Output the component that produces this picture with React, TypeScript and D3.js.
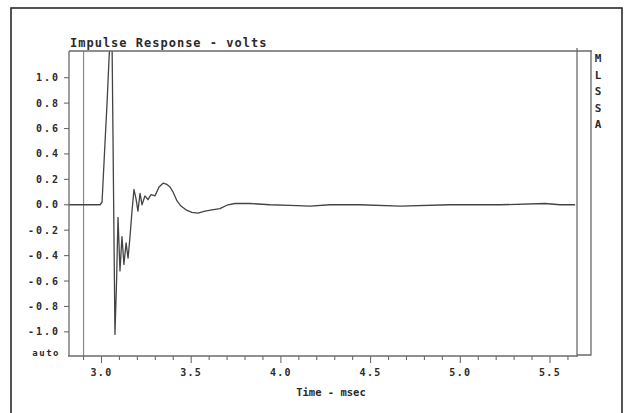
import { useEffect, useRef } from 'react';
import * as d3 from 'd3';

// impulse response samples (time in msec, volts)
const times = [
  2.819, 2.992, 3.003, 3.020, 3.031, 3.042, 3.050, 3.059, 3.075, 3.084,
  3.092, 3.103, 3.114, 3.125, 3.137, 3.148, 3.159, 3.170, 3.181, 3.192,
  3.203, 3.215, 3.226, 3.242, 3.259, 3.276, 3.298, 3.321, 3.343, 3.365,
  3.382, 3.399, 3.421, 3.443, 3.471, 3.504, 3.538, 3.577, 3.616, 3.660,
  3.705, 3.744, 3.828, 3.939, 4.051, 4.162, 4.274, 4.441, 4.665, 4.943,
  5.222, 5.472, 5.556, 5.640,
];
const volts = [
  0, 0, 0.02, 0.5, 0.8, 1.15, 1.35, 1.25, -1.02, -0.6,
  -0.1, -0.52, -0.25, -0.47, -0.3, -0.42, -0.25, -0.05, 0.12, 0.05,
  -0.05, 0.09, 0.0, 0.07, 0.04, 0.08, 0.07, 0.14, 0.17, 0.16,
  0.14, 0.1, 0.03, -0.01, -0.04, -0.06, -0.065, -0.05, -0.04, -0.03,
  0.0, 0.01, 0.01, 0.0, -0.005, -0.01, 0.0, 0.0, -0.01, 0.0,
  0.0, 0.01, 0.0, 0.0,
];

const xMajorTicks = [3.0, 3.5, 4.0, 4.5, 5.0, 5.5];
const xTickLabels = ['3.0', '3.5', '4.0', '4.5', '5.0', '5.5'];
const yTicks = [1.0, 0.8, 0.6, 0.4, 0.2, 0.0, -0.2, -0.4, -0.6, -0.8, -1.0];
const yTickLabels = ['1.0', '0.8', '0.6', '0.4', '0.2', '0.0', '-0.2', '-0.4', '-0.6', '-0.8', '-1.0'];
const markerTime = 2.9;
const sideLabel = ['M', 'L', 'S', 'S', 'A'];

export default function App() {
  const svgRef = useRef<SVGSVGElement>(null);

  useEffect(() => {
    if (!svgRef.current) return;
    const svg = d3.select(svgRef.current);
    svg.selectAll('*').remove();

    const left = 69, right = 577, top = 51, bottom = 356;
    const ink = '#2a2a2a';
    const frame = '#6a6a6a';
    const mono = "'DejaVu Sans Mono', monospace";

    const x = d3.scaleLinear().domain([3.0, 5.5]).range([101.5, 550]);
    const y = d3.scaleLinear().domain([-1.19, 1.21]).range([bottom, top]);

    // outer border
    svg.append('rect')
      .attr('x', 11).attr('y', 8).attr('width', 611).attr('height', 420)
      .attr('fill', 'none').attr('stroke', ink).attr('stroke-width', 1.6);

    // clip for the trace
    svg.append('defs').append('clipPath').attr('id', 'plotClip')
      .append('rect').attr('x', left).attr('y', top).attr('width', right - left).attr('height', bottom - top);

    // marker line
    svg.append('line')
      .attr('x1', x(markerTime)).attr('x2', x(markerTime))
      .attr('y1', top).attr('y2', bottom)
      .attr('stroke', '#8a8a8a').attr('stroke-width', 1.2);

    // trace
    const pts: [number, number][] = times.map((t, i) => [t, volts[i]]);
    const line = d3.line<[number, number]>().x(d => x(d[0])).y(d => y(d[1]));
    svg.append('path')
      .attr('d', line(pts))
      .attr('clip-path', 'url(#plotClip)')
      .attr('fill', 'none')
      .attr('stroke', '#444')
      .attr('stroke-width', 1.3)
      .attr('stroke-linejoin', 'round');

    // frame
    const f = svg.append('g').attr('stroke', frame).attr('stroke-width', 1.3).attr('fill', 'none');
    f.append('line').attr('x1', left).attr('x2', 592).attr('y1', top).attr('y2', top);
    f.append('line').attr('x1', left).attr('x2', left).attr('y1', top).attr('y2', bottom);
    f.append('line').attr('x1', left - 1).attr('x2', right).attr('y1', bottom).attr('y2', bottom);
    f.append('line').attr('x1', right).attr('x2', right).attr('y1', top - 3).attr('y2', bottom + 1);
    f.append('polyline').attr('points', `${right},${bottom - 1} 591,${bottom - 1} 591,${top}`);

    // x ticks
    const minor = d3.range(2.9, 5.65, 0.1);
    svg.append('g').selectAll('line').data(minor).join('line')
      .attr('x1', d => x(d)).attr('x2', d => x(d))
      .attr('y1', bottom).attr('y2', d => xMajorTicks.some(m => Math.abs(m - d) < 1e-6) ? bottom + 7 : bottom + 4)
      .attr('stroke', frame).attr('stroke-width', 1.1);

    svg.append('g').selectAll('text').data(xMajorTicks).join('text')
      .attr('x', d => x(d)).attr('y', 376)
      .attr('text-anchor', 'middle')
      .attr('font-family', mono).attr('font-weight', 'bold').attr('font-size', 10)
      .attr('letter-spacing', 1.3)
      .attr('fill', ink)
      .text((_, i) => xTickLabels[i]);

    // y ticks
    svg.append('g').selectAll('line').data(yTicks).join('line')
      .attr('x1', left - 5).attr('x2', left)
      .attr('y1', d => y(d)).attr('y2', d => y(d))
      .attr('stroke', frame).attr('stroke-width', 1.1);

    svg.append('g').selectAll('text').data(yTicks).join('text')
      .attr('x', 60).attr('y', d => y(d) + 3.5)
      .attr('text-anchor', 'end')
      .attr('font-family', mono).attr('font-weight', 'bold').attr('font-size', 10)
      .attr('letter-spacing', 2)
      .attr('fill', ink)
      .text((_, i) => yTickLabels[i]);

    svg.append('text')
      .attr('x', 60).attr('y', 356)
      .attr('text-anchor', 'end')
      .attr('font-family', mono).attr('font-weight', 'bold').attr('font-size', 9)
      .attr('letter-spacing', 1.5)
      .attr('fill', ink)
      .text('auto');

    // titles
    svg.append('text')
      .attr('x', 70).attr('y', 47)
      .attr('font-family', mono).attr('font-weight', 'bold').attr('font-size', 12)
      .attr('letter-spacing', 1)
      .attr('fill', ink)
      .text('Impulse Response - volts');

    svg.append('text')
      .attr('x', 331).attr('y', 396)
      .attr('text-anchor', 'middle')
      .attr('font-family', mono).attr('font-weight', 'bold').attr('font-size', 10.5)
      .attr('fill', ink)
      .text('Time - msec');

    svg.append('g').selectAll('text').data(sideLabel).join('text')
      .attr('x', 598).attr('y', (_, i) => 62 + i * 16.5)
      .attr('text-anchor', 'middle')
      .attr('font-family', mono).attr('font-weight', 'bold').attr('font-size', 11)
      .attr('fill', ink)
      .text(d => d);
  }, []);

  return (
    <svg
      ref={svgRef}
      width={624}
      height={413}
      style={{ position: 'fixed', left: 0, top: 0, display: 'block', background: '#fff' }}
    />
  );
}
